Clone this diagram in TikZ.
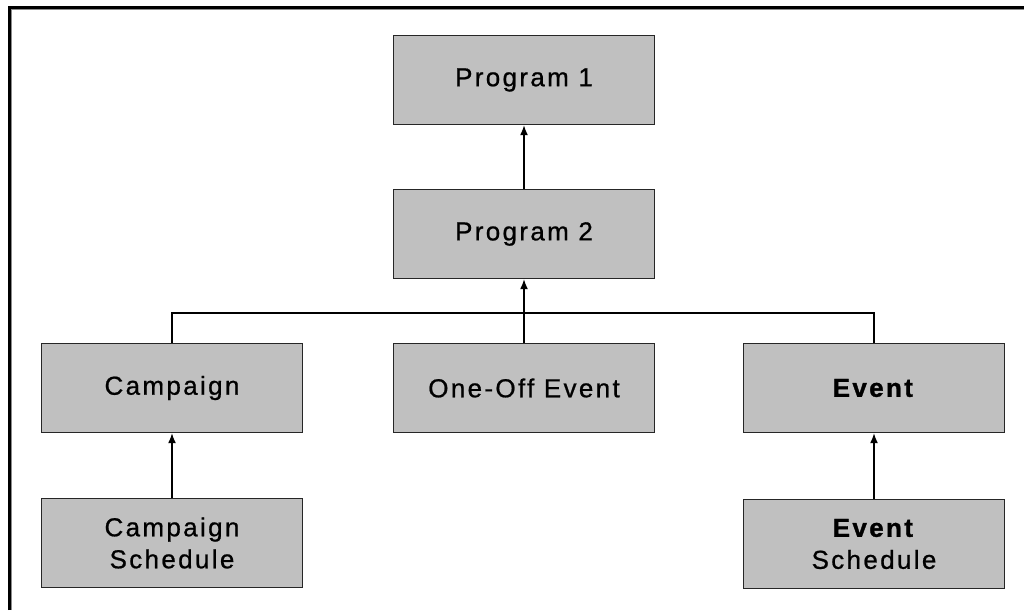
\documentclass[tikz,border=0pt]{standalone}
\usepackage{fontspec}
\setmainfont{Liberation Sans}[LetterSpace=9, UprightFeatures={FakeBold=0.8}, BoldFeatures={FakeBold=1.2}]
\usetikzlibrary{arrows.meta}
\def\largeur{1024}
\def\hauteur{610}
\definecolor{grisboite}{RGB}{192,192,192}
\tikzset{
  boite/.style={draw=black!85, line width=1.5pt, fill=grisboite, minimum width=261pt, minimum height=89pt, inner sep=0pt, align=center, font=\fontsize{26}{32}\selectfont},
  fleche/.style={line width=1.3pt, -{Latex[length=10pt, width=8pt]}}
}

\begin{document}
\begin{tikzpicture}[x=1pt, y=1pt]
\useasboundingbox (0,0) rectangle (\largeur,\hauteur);
\draw[line width=3pt] (9.5,0) -- (9.5,602.5) -- (\largeur,602.5);
\draw[line width=1pt, black!45] (11.5,0) -- (11.5,600.5) -- (\largeur,600.5);

\node[boite] (prog1) at (524,530) {Program 1};
\node[boite] (prog2) at (524,376) {Program 2};
\node[boite] (campagne) at (172,222) {Campaign};
\node[boite] (ponctuel) at (524,222) {One-Off Event};
\node[boite] (evenement) at (874,222) {\textbf{Event}};
\node[boite] (calcampagne) at (172,67) {Campaign\\Schedule};
\node[boite] (calevenement) at (874,66) {\textbf{Event}\\Schedule};

\coordinate (bus) at (524,297);
\draw[line width=1.3pt] (campagne.north) |- (bus) -| (evenement.north);
\draw[fleche] (ponctuel) -- (prog2);
\draw[fleche] (prog2) -- (prog1);
\draw[fleche] (calcampagne) -- (campagne);
\draw[fleche] (calevenement) -- (evenement);
\end{tikzpicture}
\end{document}
